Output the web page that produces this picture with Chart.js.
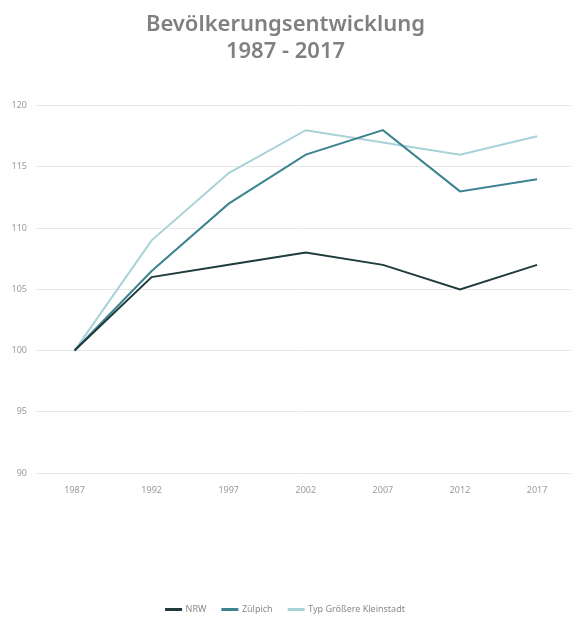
<!DOCTYPE html>
<html>
<head>
<meta charset="utf-8">
<script src="https://cdn.jsdelivr.net/npm/chart.js@4.4.1/dist/chart.umd.min.js"></script>
<style>
html,body{margin:0;padding:0;background:#fff;}
#wrap{width:571px;height:619px;}
</style>
</head>
<body>
<div id="wrap"><canvas id="c"></canvas></div>
<script>
const years = [1987, 1992, 1997, 2002, 2007, 2012, 2017];
const nrw = [100, 106, 107, 108, 107, 105, 107];
const zuelpich = [100, 106.5, 112, 116, 118, 113, 114];
const kleinstadt = [100, 109, 114.5, 118, 117, 116, 117.5];
const titleLines = ['Bevölkerungsentwicklung', '1987 - 2017'];
const seriesNames = ['NRW', 'Zülpich', 'Typ Größere Kleinstadt'];
const colors = ['#1f3b3e', '#3c8490', '#a7d3d8'];

const toPts = arr => arr.map((v, i) => ({x: years[i], y: v}));
const mk = (label, arr, c) => ({
  label, data: toPts(arr), borderColor: c, backgroundColor: c,
  borderWidth: 2, pointRadius: 0, pointHoverRadius: 0, tension: 0, fill: false
});

new Chart(document.getElementById('c'), {
  type: 'line',
  data: {
    datasets: [
      mk(seriesNames[0], nrw, colors[0]),
      mk(seriesNames[1], zuelpich, colors[1]),
      mk(seriesNames[2], kleinstadt, colors[2])
    ]
  },
  options: {
    responsive: true,
    maintainAspectRatio: false,
    animation: false,
    layout: {padding: {left: 0, right: 0, top: 0, bottom: -5}},
    plugins: {
      title: {
        display: true,
        text: titleLines,
        color: '#808080',
        font: {family: 'Noto Sans', size: 22, weight: '600', lineHeight: 1.22},
        padding: {top: 11, bottom: 41}
      },
      legend: {
        position: 'bottom',
        labels: {
          color: '#8a8a8a',
          font: {family: 'Noto Sans', size: 9},
          boxWidth: 15,
          boxHeight: 1,
          padding: 16
        }
      },
      tooltip: {enabled: false}
    },
    scales: {
      x: {
        type: 'linear',
        min: 1984.5,
        max: 2019.2,
        afterBuildTicks: s => { s.ticks = years.map(v => ({value: v})); },
        afterFit: s => { s.height = 116; },
        grid: {display: false, drawTicks: false},
        border: {display: false},
        ticks: {
          color: '#9a9a9a',
          font: {family: 'Noto Sans', size: 9},
          padding: 12,
          maxRotation: 0,
          autoSkip: false,
          callback: v => String(v)
        }
      },
      y: {
        min: 90,
        max: 120,
        afterFit: s => { s.width = 36; },
        grid: {color: '#e8e8e8', drawTicks: false, lineWidth: 1},
        border: {display: false},
        ticks: {
          stepSize: 5,
          color: '#9a9a9a',
          font: {family: 'Noto Sans', size: 9},
          padding: 9
        }
      }
    }
  }
});
</script>
</body>
</html>
